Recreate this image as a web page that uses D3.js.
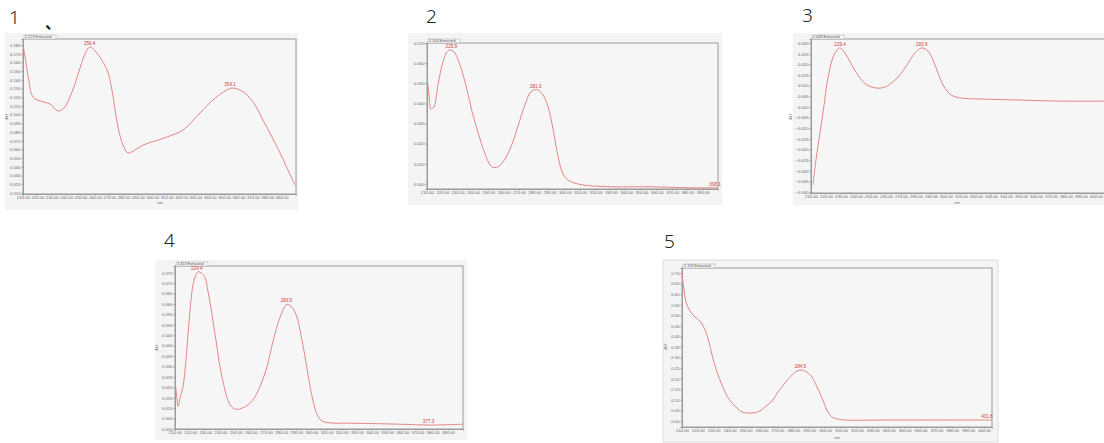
<!DOCTYPE html>
<html><head><meta charset="utf-8">
<script src="https://cdn.jsdelivr.net/npm/d3@7/dist/d3.min.js"></script>
<style>
html,body{margin:0;padding:0;background:#fff;}
svg{display:block;font-family:"Liberation Sans",Arial,sans-serif;}
</style></head><body>
<svg id="c" width="1104" height="443"></svg>
<script>
// ---------- data ----------
const xTickValues = [210,220,230,240,250,260,270,280,290,300,310,320,330,340,350,360,370,380,390,400];

const headers = ["2.123 Extracted","2.563 Extracted","2.648 Extracted","3.453 Extracted","2.133 Extracted"];
const panelNumbers = ["1","2","3","4","5"];

const yTicks1 = [0.180,0.170,0.160,0.150,0.140,0.130,0.120,0.110,0.100,0.090,0.080,0.070,0.060,0.050,0.040,0.030,0.020,0.010];
const yTicks2 = [0.070,0.060,0.050,0.040,0.030,0.020,0.010,0.000];
const yTicks3 = [0.030,0.025,0.020,0.015,0.010,0.005,0.000,-0.005,-0.010,-0.015,-0.020,-0.025,-0.030,-0.035,-0.040];
const yTicks4 = [0.075,0.070,0.065,0.060,0.055,0.050,0.045,0.040,0.035,0.030,0.025,0.020,0.015,0.010,0.005,0.000];
const yTicks5 = [0.70,0.65,0.60,0.55,0.50,0.45,0.40,0.35,0.30,0.25,0.20,0.15,0.10,0.05,0.00];

const spectrum1 = [[210,0.180],[212.1,0.160],[214.2,0.1375],[217,0.120],[221.8,0.1157],[228.8,0.1122],[234.4,0.1042],[238.5,0.1076],[244.1,0.126],[249.7,0.1536],[253.8,0.172],[256.6,0.1777],[260.8,0.172],[268.5,0.1513],[271.9,0.1283],[276.1,0.0858],[279.6,0.0651],[283.1,0.056],[288,0.0594],[293.6,0.0651],[301.9,0.0697],[310.2,0.0743],[321.4,0.0824],[333.2,0.1019],[342.2,0.1168],[350.6,0.1272],[355.5,0.1306],[361,0.1283],[365.9,0.1226],[371.5,0.1111],[377,0.0938],[383.3,0.0743],[388.9,0.056],[394.4,0.0364],[399.3,0.0192]];
const spectrum2 = [[210,0.0532],[211.3,0.0444],[212.6,0.037],[214.6,0.0384],[217.2,0.0493],[220.4,0.0606],[223.1,0.0656],[225,0.0665],[227.6,0.0656],[231.5,0.0592],[236.1,0.0468],[239.4,0.036],[243.3,0.0256],[247.9,0.0148],[252.4,0.0084],[256.4,0.0084],[260.9,0.0123],[265.5,0.0197],[269.4,0.0286],[274,0.0394],[277.9,0.0458],[281.8,0.0468],[285.1,0.0449],[289,0.0384],[292.3,0.0271],[295.5,0.0138],[298.8,0.0049],[302.7,0.0015],[311.2,-0.0005],[330.8,-0.0015],[355.6,-0.0015],[381.7,-0.002],[400,-0.002]];
const spectrum3 = [[211.3,-0.0367],[213.3,-0.025],[216,-0.0123],[218.7,0.0009],[220.7,0.0112],[222.7,0.0183],[224.7,0.0234],[227.3,0.0267],[229.3,0.0277],[232.7,0.0253],[238,0.0187],[242.7,0.0135],[247.3,0.0103],[254,0.0088],[259.3,0.0093],[262.7,0.0107],[268,0.014],[274,0.0197],[279.3,0.0253],[284,0.0277],[288,0.0262],[291.3,0.022],[294.7,0.0159],[298,0.0103],[301.3,0.007],[304.7,0.0051],[310.7,0.0041],[322.7,0.0037],[349.3,0.0032],[376,0.0027],[410,0.0027]];
const spectrum4 = [[210,0.0232],[211.3,0.0147],[212,0.0109],[213.3,0.0147],[215.3,0.0204],[217.3,0.0337],[218.6,0.0456],[220.6,0.0622],[221.9,0.0693],[223.9,0.0741],[225.2,0.0755],[227.8,0.0745],[229.8,0.0726],[231.8,0.066],[234.4,0.055],[237.1,0.0422],[239.7,0.0299],[242.4,0.0204],[245,0.0137],[247.6,0.0104],[250.9,0.0094],[257.5,0.0113],[262.1,0.0147],[266.1,0.0204],[270.7,0.0299],[274.7,0.0422],[279.3,0.0536],[283.9,0.0598],[287.2,0.0584],[290.5,0.0536],[293.1,0.0451],[295.8,0.0346],[298.4,0.0232],[301,0.0137],[303.7,0.0071],[307,0.0038],[315.6,0.0028],[323.5,0.0028],[358.4,0.0023],[378.2,0.0019],[400,0.0023]];
const spectrum5 = [[210,0.6905],[211.3,0.6196],[212.5,0.5628],[215,0.5203],[218.2,0.4919],[221.3,0.473],[224.5,0.4304],[227,0.3737],[228.9,0.3122],[232,0.2317],[235.2,0.1703],[238.3,0.1182],[241.5,0.0851],[244.6,0.0615],[247.7,0.0426],[254,0.0378],[259.1,0.0473],[262.2,0.0662],[266.6,0.0946],[270.4,0.1371],[274.8,0.1797],[279.2,0.2175],[282.3,0.2365],[285.5,0.2412],[288.6,0.2317],[291.8,0.2081],[294.9,0.1608],[298.1,0.1088],[301.2,0.052],[304.4,0.0189],[308.1,0.0095],[312.5,0.0047],[339.6,0.0047],[405,0.0047]];

const peaks1 = [[256.4,0.1777],[354.1,0.1306]];
const peaks2 = [[225.9,0.0665],[281.0,0.0468],[398.1,-0.002]];
const peaks3 = [[229.4,0.0277],[283.9,0.0277]];
const peaks4 = [[224.4,0.0755],[283.5,0.0598],[377.3,0.0019]];
const peaks5 = [[284.5,0.2412],[401.8,0.0047]];

// ---------- layout ----------
const panels = [
  {data:spectrum1, peaks:peaks1, yTicks:yTicks1, yFmt:".3f", outer:[5,33,293,177], box:[23,39,296,194], xDom:[210,400], yDom:[0.0088,0.1869], numPos:[9,24], au:[8,117], nm:[160,204]},
  {data:spectrum2, peaks:peaks2, yTicks:yTicks2, yFmt:".3f", outer:[408,33,314,172], box:[427,43,718,189], xDom:[210,400], yDom:[-0.0026,0.070], numPos:[426,23], au:null, nm:null},
  {data:spectrum3, peaks:peaks3, yTicks:yTicks3, yFmt:".3f", outer:[793,33,320,172], box:[811,39,1111,193], xDom:[210,410], yDom:[-0.0405,0.0319], numPos:[802,22], au:[792,117], nm:[957,204]},
  {data:spectrum4, peaks:peaks4, yTicks:yTicks4, yFmt:".3f", outer:[155,260,312,180], box:[175,266,463,429], xDom:[210,400], yDom:[0.0,0.0782], numPos:[164,247], au:[158,348], nm:null},
  {data:spectrum5, peaks:peaks5, yTicks:yTicks5, yFmt:".2f", outer:[663,260,335,182], box:[682,268,992,427], xDom:[210,405], yDom:[-0.0284,0.7237], numPos:[664,248], au:[667,347], nm:[837,439]}
];

const svg = d3.select("#c");
const lineColor = "#e58585";

panels.forEach((p,i)=>{
  const g = svg.append("g");
  const [bx0,by0,bx1,by1] = p.box;
  g.append("rect").attr("x",p.outer[0]).attr("y",p.outer[1]).attr("width",p.outer[2]).attr("height",p.outer[3])
    .attr("fill","#f4f4f4").attr("stroke", i===4 ? "#d8d8d8" : "none").attr("stroke-width",0.8);
  g.append("rect").attr("x",bx0).attr("y",by0).attr("width",bx1-bx0).attr("height",by1-by0)
    .attr("fill","#f6f6f6").attr("stroke","#9a9a9a").attr("stroke-width",1);

  const x = d3.scaleLinear().domain(p.xDom).range([bx0,bx1]);
  const y = d3.scaleLinear().domain(p.yDom).range([by1,by0]);

  const xa = g.append("g").attr("transform",`translate(0,${by1})`)
    .call(d3.axisBottom(x).tickValues(xTickValues.filter(v=>v>=p.xDom[0] && v<p.xDom[1])).tickFormat(d3.format(".2f")).tickSize(1.5).tickPadding(1));
  xa.select(".domain").attr("stroke","#9a9a9a");
  xa.selectAll(".tick line").attr("stroke","#999");
  xa.selectAll("text").attr("font-size",4.2).attr("fill","#666");

  const ya = g.append("g").attr("transform",`translate(${bx0},0)`)
    .call(d3.axisLeft(y).tickValues(p.yTicks).tickFormat(d3.format(p.yFmt)).tickSize(1.5).tickPadding(1));
  ya.select(".domain").attr("stroke","#9a9a9a");
  ya.selectAll(".tick line").attr("stroke","#999");
  ya.selectAll("text").attr("font-size",4.2).attr("fill","#666");

  const hw = 32;
  g.append("rect").attr("x",bx0+1).attr("y",by0-4).attr("width",hw).attr("height",4)
    .attr("fill","#f6f6f6").attr("stroke","#aaa").attr("stroke-width",0.5);
  g.append("text").attr("x",bx0+2).attr("y",by0-0.8).attr("font-size",3.8).attr("fill","#555").text(headers[i]);

  const clipId = "clip"+i;
  g.append("clipPath").attr("id",clipId).append("rect")
    .attr("x",bx0).attr("y",by0).attr("width",bx1-bx0).attr("height",by1-by0);
  g.append("path").datum(p.data).attr("clip-path",`url(#${clipId})`)
    .attr("fill","none").attr("stroke",lineColor).attr("stroke-width",1)
    .attr("d", d3.line().x(d=>x(d[0])).y(d=>y(d[1])).curve(d3.curveCatmullRom.alpha(0.5)));

  g.selectAll(".pk").data(p.peaks).enter().append("text")
    .attr("x",d=>x(d[0])).attr("y",d=>y(d[1])-2)
    .attr("text-anchor","middle").attr("font-size",4.6).attr("fill","#d23a3a")
    .text(d=>d[0].toFixed(1));

  if(p.au){
    g.append("text").attr("transform",`translate(${p.au[0]},${p.au[1]}) rotate(-90)`)
      .attr("text-anchor","middle").attr("font-size",3.8).attr("fill","#666").text("AU");
  }
  if(p.nm){
    g.append("text").attr("x",p.nm[0]).attr("y",p.nm[1]).attr("text-anchor","middle")
      .attr("font-size",3.8).attr("fill","#666").text("nm");
  }

  svg.append("text").attr("x",p.numPos[0]).attr("y",p.numPos[1])
    .attr("font-family","'Noto Sans',sans-serif").attr("font-weight",300).attr("font-size",19).attr("fill","#222")
    .text(panelNumbers[i]);
});

svg.append("text").attr("x",45).attr("y",29).attr("font-family","'Noto Sans CJK SC',sans-serif")
  .attr("font-size",16).attr("font-weight",700).attr("fill","#222").text("、");
</script>
</body></html>
